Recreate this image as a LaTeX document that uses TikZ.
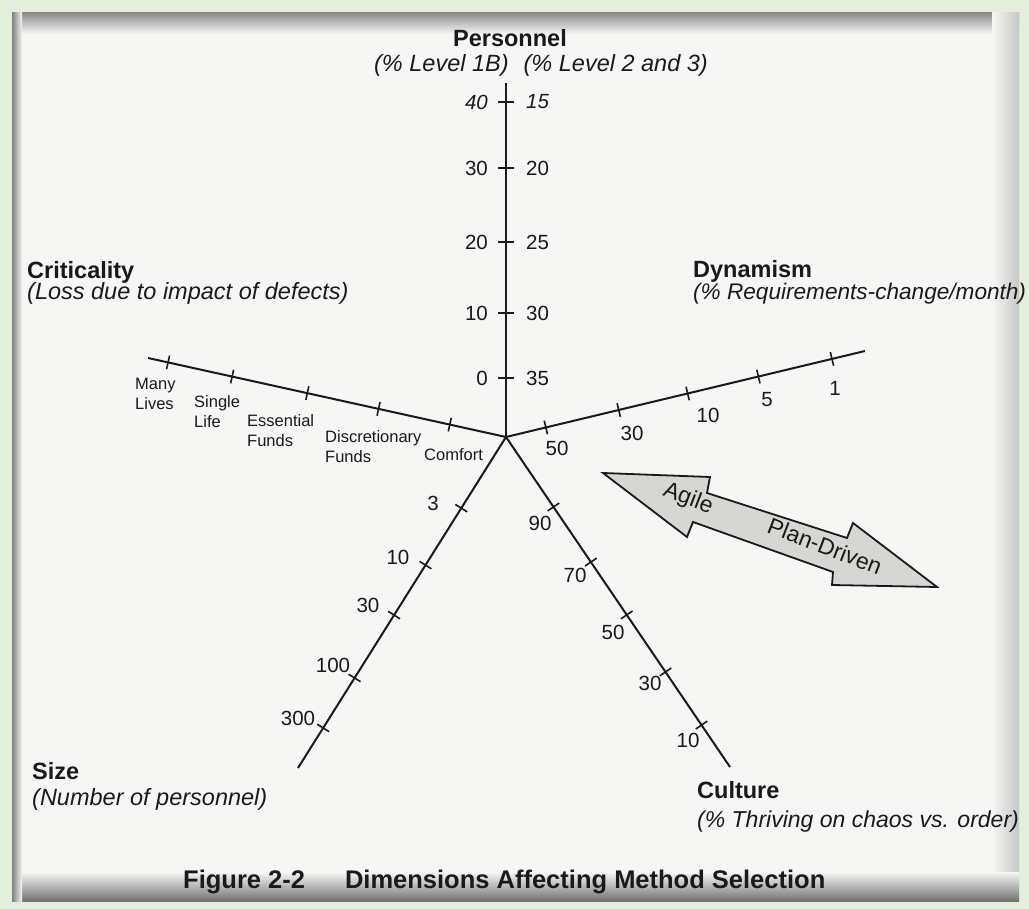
\documentclass[tikz,border=0pt]{standalone}
\usepackage{fontspec}
\setmainfont{Liberation Sans}
\usetikzlibrary{calc}
\definecolor{frame}{RGB}{228,238,220}
\definecolor{paper}{RGB}{246,246,244}
\definecolor{ink}{RGB}{26,26,26}
\definecolor{arrowfill}{RGB}{214,214,210}
\begin{document}
\begin{tikzpicture}[x=1pt,y=-1pt,
  axisline/.style={draw=ink, line width=2pt},
  tickmark/.style={draw=ink, line width=1.6pt},
  dimtitle/.style={font=\fontsize{23.5}{26}\selectfont\bfseries, text=ink, inner sep=0pt, anchor=base west},
  dimunit/.style={font=\fontsize{23.5}{26}\selectfont\itshape, text=ink, inner sep=0pt, anchor=base west},
  num/.style={font=\fontsize{20.5}{22}\selectfont, text=ink, inner sep=0pt},
  critlabel/.style={font=\fontsize{16.5}{20}\selectfont, text=ink, inner sep=0pt, align=left, anchor=north west},
  arrowtext/.style={font=\fontsize{23}{26}\selectfont, text=ink, inner sep=0pt, rotate=-21},
]
\useasboundingbox (0,0) rectangle (1029,909);

% page on its frame
\fill[frame] (0,0) rectangle (1029,909);
\fill[paper] (12,13) rectangle (1019,901);
\shade[top color=black!45, bottom color=paper] (12,13) rectangle (1019,34);
\shade[left color=paper, right color=black!22] (992,13) rectangle (1019,901);
\shade[top color=paper, bottom color=black!55] (12,872) rectangle (1019,901);
\shade[left color=black!50, right color=paper] (12,13) rectangle (22,901);

% axes
\coordinate (c) at (506,437);
\coordinate (persend) at (506,83);
\coordinate (critend) at (148,358);
\coordinate (dynend) at (865,351);
\coordinate (sizeend) at (298,768);
\coordinate (cultend) at (730,767);

\draw[axisline] (c) -- (persend);
\draw[axisline] (c) -- (critend);
\draw[axisline] (c) -- (dynend);
\draw[axisline] (c) -- (sizeend);
\draw[axisline] (c) -- (cultend);

% personnel ticks and scales
\foreach \y/\l/\r [count=\i] in {102/{\itshape 40}/{\itshape 15}, 168/30/20, 242/20/25, 313/10/30, 378/0/35} {
  \coordinate (pers\i) at (506,\y);
  \draw[tickmark] ($(pers\i)+(-8,0)$) -- ($(pers\i)+(8,0)$);
  \node[num, anchor=east] (persl\i) at ($(pers\i)+(-18,0)$) {\l};
  \node[num, anchor=west] (persr\i) at ($(pers\i)+(20,0)$) {\r};
}

% ticks on the slanted axes
\foreach \f [count=\i] in {0.157,0.356,0.555,0.765,0.944} {
  \coordinate (crit\i) at ($(c)!\f!(critend)$);
  \draw[tickmark] ($(crit\i)!7pt!90:(critend)$) -- ($(crit\i)!7pt!-90:(critend)$);
}
\foreach \f [count=\i] in {0.111,0.314,0.506,0.703,0.908} {
  \coordinate (dyn\i) at ($(c)!\f!(dynend)$);
  \draw[tickmark] ($(dyn\i)!7pt!90:(dynend)$) -- ($(dyn\i)!7pt!-90:(dynend)$);
}
\foreach \f [count=\i] in {0.215,0.387,0.538,0.728,0.879} {
  \coordinate (size\i) at ($(c)!\f!(sizeend)$);
  \draw[tickmark] ($(size\i)!7pt!90:(sizeend)$) -- ($(size\i)!7pt!-90:(sizeend)$);
}
\foreach \f [count=\i] in {0.212,0.379,0.539,0.712,0.873} {
  \coordinate (cult\i) at ($(c)!\f!(cultend)$);
  \draw[tickmark] ($(cult\i)!7pt!90:(cultend)$) -- ($(cult\i)!7pt!-90:(cultend)$);
}

% criticality scale
\node[critlabel] (cl1) at (135,378) {Many\\Lives};
\node[critlabel] (cl2) at (194,395) {Single\\Life};
\node[critlabel] (cl3) at (247,414) {Essential\\Funds};
\node[critlabel] (cl4) at (325,430) {Discretionary\\Funds};
\node[critlabel] (cl5) at (424,448) {Comfort};

% dynamism scale
\node[num] (dl1) at (557,448) {50};
\node[num] (dl2) at (632,433) {30};
\node[num] (dl3) at (708,415) {10};
\node[num] (dl4) at (767,400) {5};
\node[num] (dl5) at (835,388) {1};

% size scale
\node[num] (sl1) at (433,503) {3};
\node[num] (sl2) at (398,557) {10};
\node[num] (sl3) at (368,605) {30};
\node[num] (sl4) at (333,665) {100};
\node[num] (sl5) at (298,718) {300};

% culture scale
\node[num] (ul1) at (540,523) {90};
\node[num] (ul2) at (575,575) {70};
\node[num] (ul3) at (613,632) {50};
\node[num] (ul4) at (650,683) {30};
\node[num] (ul5) at (688,740) {10};

% dimension names
\node[dimtitle, anchor=base] (perst) at (510,47) {Personnel};
\node[dimunit, anchor=base] (persu) at (541,72) {(\% Level 1B)\hspace{15pt}(\% Level 2 and 3)};
\node[dimtitle] (critt) at (27,279) {Criticality};
\node[dimunit] (critu) at (27,300) {(Loss due to impact of defects)};
\node[dimtitle] (dynt) at (693,278) {Dynamism};
\node[dimunit, font=\fontsize{22.6}{26}\selectfont\itshape] (dynu) at (693,300) {(\% Requirements-change/month)};
\node[dimtitle] (sizet) at (32,779) {Size};
\node[dimunit] (sizeu) at (32,805) {(Number of personnel)};
\node[dimtitle] (cultt) at (697,798) {Culture};
\node[dimunit, font=\fontsize{23}{26}\selectfont\itshape] (cultu) at (697,827) {(\% Thriving on chaos vs. order)};

% agile / plan-driven double arrow
\draw[draw=ink, line width=1.8pt, fill=arrowfill, line join=miter]
  (603,473) -- (710,477) -- (707,493) -- (847,538) -- (853,523) -- (937,587)
  -- (832,585) -- (833,572) -- (693,522) -- (687,537) -- cycle;
\node[arrowtext] (agile) at (688,499) {Agile};
\node[arrowtext] (plan) at (825,546) {Plan-Driven};

% caption
\node[font=\fontsize{25.5}{28}\selectfont\bfseries, text=ink, inner sep=0pt, anchor=base west] (caption)
  at (183,888) {Figure 2-2\hspace{40pt}Dimensions Affecting Method Selection};
\end{tikzpicture}
\end{document}
